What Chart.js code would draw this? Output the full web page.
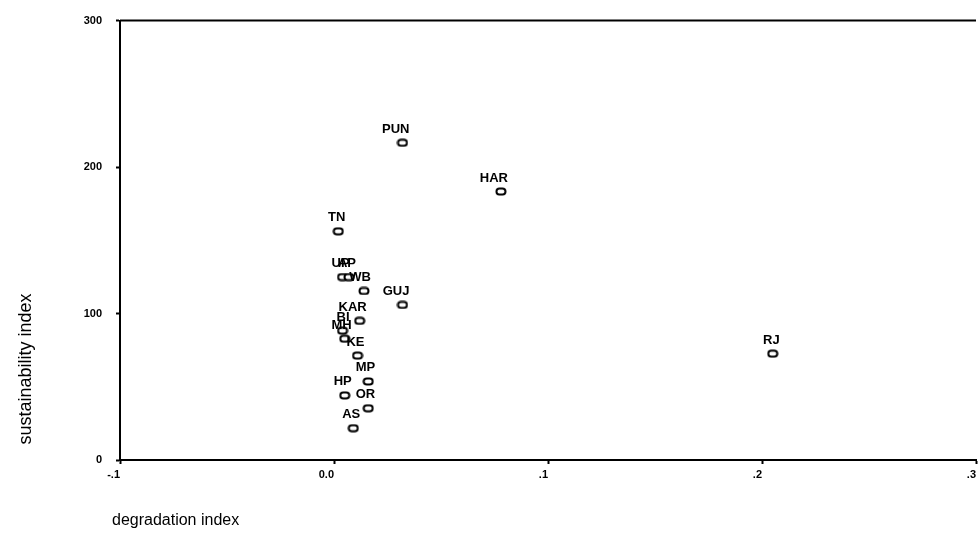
<!DOCTYPE html>
<html lang="en">
<head>
    <meta charset="UTF-8">
    <meta name="viewport" content="width=device-width, initial-scale=1.0">
    <title>Sustainability vs Degradation Index</title>
    <script src="https://cdn.jsdelivr.net/npm/chart.js"></script>
    <style>
        html, body {
            margin: 0;
            padding: 0;
            background: #fff;
            overflow: hidden;
        }

        .canvas-container {
            position: relative;
            width: 980px;
            height: 533px;
        }
    </style>
</head>
<body>
<div class="canvas-container">
    <canvas id="myChart"></canvas>
</div>
<script>
  // state codes and their (degradation, sustainability) values
  const states = ['PUN', 'HAR', 'TN', 'UP', 'AP', 'WB', 'GUJ', 'KAR', 'BI', 'MH', 'KE', 'MP', 'HP', 'OR', 'AS', 'RJ'];
  const degradation = [0.032, 0.078, 0.002, 0.004, 0.007, 0.014, 0.032, 0.012, 0.004, 0.005, 0.011, 0.016, 0.005, 0.016, 0.009, 0.205];
  const sustainability = [216.6, 183.3, 156.1, 124.9, 124.9, 115.4, 105.9, 95.0, 88.3, 82.8, 71.3, 53.6, 44.1, 35.3, 21.7, 72.6];

  const xTickLabels = ['-.1', '0.0', '.1', '.2', '.3'];
  const yTickLabels = ['0', '100', '200', '300'];

  const FONT = '"Liberation Sans", Arial, Helvetica, sans-serif';

  // small rounded "o" marker like the original plot symbols
  function makeMarker() {
    var c = document.createElement('canvas');
    c.width = 12;
    c.height = 9;
    var g = c.getContext('2d');
    g.lineWidth = 2;
    g.strokeStyle = '#000';
    g.fillStyle = '#fff';
    g.beginPath();
    if (g.roundRect) {
      g.roundRect(1.5, 1.5, 9, 6, 3);
    } else {
      g.rect(1.5, 1.5, 9, 6);
    }
    g.fill();
    g.stroke();
    return c;
  }

  const pointLabels = {
    id: 'pointLabels',
    afterDatasetsDraw(chart) {
      const ctx = chart.ctx;
      const meta = chart.getDatasetMeta(0);
      ctx.save();
      ctx.font = '600 13px ' + FONT;
      ctx.fillStyle = '#000';
      ctx.textAlign = 'right';
      ctx.textBaseline = 'alphabetic';
      meta.data.forEach((pt, i) => {
        ctx.fillText(states[i], pt.x + 7, pt.y - 10);
      });
      ctx.restore();
    }
  };

  const frame = {
    id: 'frame',
    afterDraw(chart) {
      const ctx = chart.ctx;
      const area = chart.chartArea;
      ctx.save();
      // top border line
      ctx.strokeStyle = '#000';
      ctx.lineWidth = 2;
      ctx.beginPath();
      ctx.moveTo(area.left, area.top);
      ctx.lineTo(area.right, area.top);
      ctx.stroke();

      // axis titles
      ctx.fillStyle = '#000';
      ctx.font = '16px ' + FONT;
      ctx.textAlign = 'left';
      ctx.textBaseline = 'middle';
      ctx.fillText('degradation index', 112, 521);

      ctx.font = '18px ' + FONT;
      ctx.translate(26, 369);
      ctx.rotate(-Math.PI / 2);
      ctx.textAlign = 'center';
      ctx.fillText('sustainability index', 0, 0);
      ctx.restore();
    }
  };

  var points = degradation.map((d, i) => ({ x: d, y: sustainability[i] }));

  var ctx = document.getElementById('myChart').getContext('2d');
  var myChart = new Chart(ctx, {
    type: 'scatter',
    data: {
      datasets: [{
        label: 'states',
        data: points,
        pointStyle: makeMarker(),
        pointRadius: 5
      }]
    },
    options: {
      responsive: true,
      maintainAspectRatio: false,
      animation: false,
      events: [],
      layout: {
        autoPadding: false,
        padding: { left: 0, right: 0, top: 16, bottom: 0 }
      },
      plugins: {
        legend: { display: false },
        tooltip: { enabled: false }
      },
      scales: {
        x: {
          type: 'linear',
          min: -0.1,
          max: 0.3,
          afterFit: function(scale) { scale.height = 73; },
          border: { display: true, color: '#000', width: 2 },
          grid: {
            drawOnChartArea: false,
            drawTicks: true,
            tickLength: 4,
            tickWidth: 2,
            tickColor: '#000'
          },
          ticks: {
            stepSize: 0.1,
            align: 'end',
            padding: 4,
            maxRotation: 0,
            color: '#000',
            font: { family: FONT, size: 11, weight: 'bold' },
            callback: function(value, index) { return xTickLabels[index]; }
          }
        },
        y: {
          type: 'linear',
          min: 0,
          max: 300,
          afterFit: function(scale) { scale.width = 120; },
          border: { display: true, color: '#000', width: 2 },
          grid: {
            drawOnChartArea: false,
            drawTicks: true,
            tickLength: 4,
            tickWidth: 2,
            tickColor: '#000'
          },
          ticks: {
            stepSize: 100,
            padding: 14,
            color: '#000',
            font: { family: FONT, size: 11, weight: 'bold' },
            callback: function(value, index) { return yTickLabels[index]; }
          }
        }
      }
    },
    plugins: [pointLabels, frame]
  });
</script>
</body>
</html>
